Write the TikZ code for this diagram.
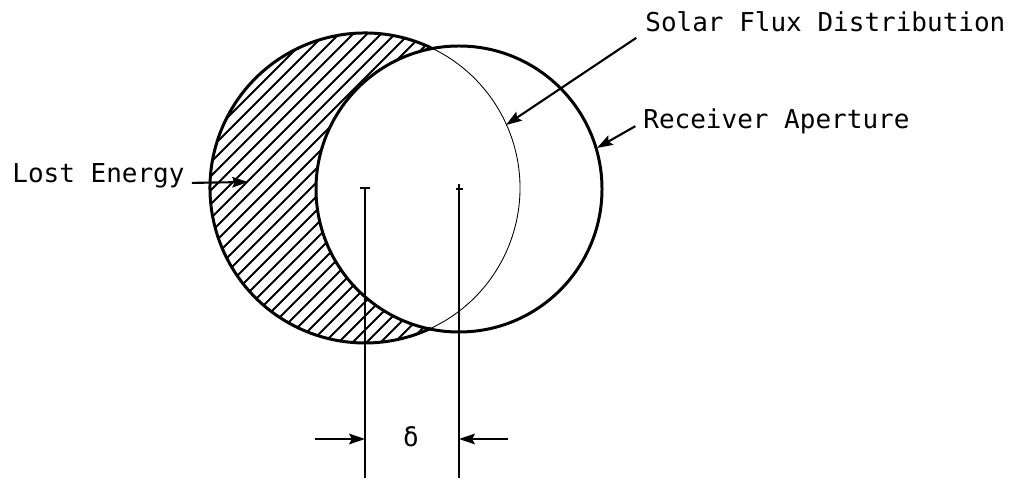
\documentclass[tikz,border=0pt]{standalone}
\usepackage{fontspec}
\setmonofont{DejaVu Sans Mono}
\usetikzlibrary{arrows.meta}

\begin{document}
\begin{tikzpicture}[
  x=0.02cm,y=0.02cm,
  lbl/.style={inner sep=0pt,anchor=base west,
              font=\ttfamily\fontsize{14.8}{17}\selectfont},
  rim/.style={line width=1.7pt},
  thinrim/.style={line width=0.5pt},
  hatch/.style={line width=1.1pt},
  dim/.style={line width=1.2pt},
  arr/.style={-{Stealth[length=9pt,width=6pt,inset=1.5pt]},line width=1.2pt}
]
  \useasboundingbox (0,0) rectangle (1013,483);

  % centres of the two circles
  \coordinate (cF) at (365,295);   % solar flux
  \coordinate (cR) at (459,294);   % receiver
  \coordinate (bF) at (365,5);
  \coordinate (bR) at (459,5);

  % lost energy (hatched)
  \begin{scope}
    \clip (cF) circle (155);
    \foreach \c in {-296,-282,...,150}
      \draw[hatch] (200,200+\c) -- (530,530+\c);
  \end{scope}
  \fill[white] (cR) circle (143);

  \draw[rim] (cR) circle (143);
  \draw[rim] ([shift={(64.8:155)}]cF) arc[start angle=64.8,end angle=295.2,radius=155];
  \draw[thinrim] ([shift={(-64.8:155)}]cF) arc[start angle=-64.8,end angle=64.8,radius=155];

  % centre marks and offset
  \draw[dim] ([xshift=-0.1cm]cF) -- ([xshift=0.1cm]cF);
  \draw[dim] ([xshift=-0.07cm]cR) -- ([xshift=0.07cm]cR);
  \draw[dim] (cF) -- (bF);
  \draw[dim] ([yshift=0.1cm]cR) -- (bR);

  \coordinate (dl) at (315,44);
  \coordinate (dr) at (508,44);
  \draw[arr] (dl) -- (dl -| bF);
  \draw[arr] (dr) -- (dr -| bR);
  \node[lbl,anchor=center] (delta) at (411,46) {δ};

  % labels
  \node[lbl] (lost) at (12,300)  {Lost Energy};
  \node[lbl] (flux) at (645,451) {Solar Flux Distribution};
  \node[lbl] (aper) at (643,354) {Receiver Aperture};

  \coordinate (lostTip) at (248,301);
  \coordinate (fluxTip) at (506,358);
  \coordinate (aperTip) at (597,335);
  \draw[arr,shorten <=4pt] (lost.base east) -- (lostTip);
  \draw[arr,shorten <=6pt] (flux.base west) -- (fluxTip);
  \draw[arr,shorten <=5pt] (aper.west) -- (aperTip);
\end{tikzpicture}
\end{document}
